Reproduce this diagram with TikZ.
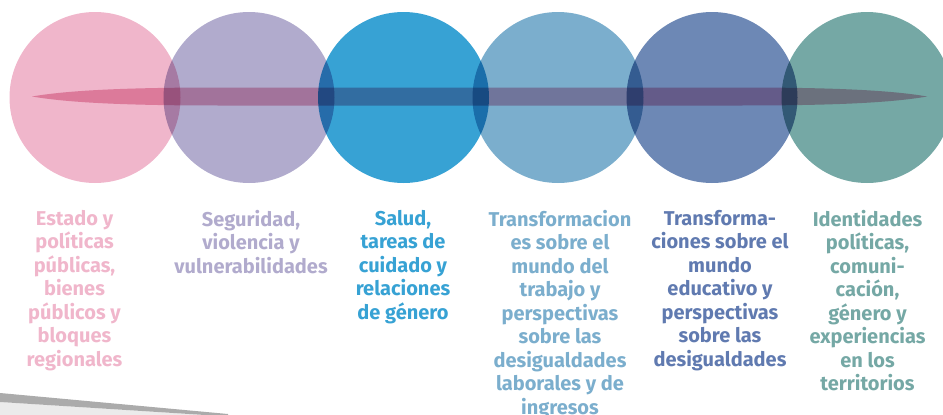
\documentclass[tikz,border=0pt]{standalone}
\usepackage{fontspec}
\setmainfont{Fira Sans}
\definecolor{rosa}{RGB}{240,182,203}
\definecolor{lila}{RGB}{177,171,205}
\definecolor{celeste}{RGB}{55,162,212}
\definecolor{agua}{RGB}{123,174,205}
\definecolor{azul}{RGB}{109,136,181}
\definecolor{azultxt}{RGB}{96,122,176}
\definecolor{verde}{RGB}{117,168,165}
\definecolor{banda}{RGB}{234,172,194}
\tikzset{
  eje/.style={font=\bfseries\fontsize{20}{23.5}\selectfont, align=center, anchor=north, inner sep=0pt},
}
\begin{document}
\begin{tikzpicture}[x=1pt,y=-1pt]
    \clip (0,0) rectangle (943,415);
    \coordinate (C1) at (95, 97.5);
    \coordinate (C2) at (249, 97.5);
    \coordinate (C3) at (403.5, 97.5);
    \coordinate (C4) at (558, 97.5);
    \coordinate (C5) at (712, 97.5);
    \coordinate (C6) at (867, 97.5);
    \coordinate (P1) at (32, 96.5);
    \coordinate (P2) at (927, 96.5);

    \begin{scope}[blend mode=multiply]
    \fill[rosa] (C1) circle (85.5);
    \fill[lila] (C2) circle (85.5);
    \fill[celeste] (C3) circle (85.5);
    \fill[agua] (C4) circle (85.5);
    \fill[azul] (C5) circle (85.5);
    \fill[verde] (C6) circle (85.5);

    \fill[banda] (P1) .. controls (70,90) and (130,87.5) .. (220,87.5)
        -- (740,87.5) .. controls (830,87.5) and (890,90) .. (P2)
        .. controls (890,103) and (830,105.5) .. (740,105.5)
        -- (220,105.5) .. controls (130,105.5) and (70,103) .. cycle;
    \end{scope}

%    sheet at the bottom left
    \fill[black!8] (0,402) -- (205,415) -- (0,415) -- cycle;
    \fill[black!33] (0,393) -- (228,414) -- (228,415) -- (205,415) -- (0,402) -- cycle;

    \node[eje, text=rosa] (T1) at (74.5, 210) {Estado y\\políticas\\públicas,\\bienes\\públicos y\\bloques\\regionales};
    \node[eje, text=lila] (T2) at (251, 210) {Seguridad,\\violencia y\\vulnerabilidades};
    \node[eje, text=celeste] (T3) at (403, 210) {Salud,\\tareas de\\cuidado y\\relaciones\\de género};
    \node[eje, text=agua] (T4) at (560, 210) {Transformacion\\es sobre el\\mundo del\\trabajo y\\perspectivas\\sobre las\\desigualdades\\laborales y de\\ingresos};
    \node[eje, text=azultxt] (T5) at (720, 210) {Transforma-\\ciones sobre el\\mundo\\educativo y\\perspectivas\\sobre las\\desigualdades};
    \node[eje, text=verde] (T6) at (867.5, 210) {Identidades\\políticas,\\comuni-\\cación,\\género y\\experiencias\\en los\\territorios};

\end{tikzpicture}
\end{document}
